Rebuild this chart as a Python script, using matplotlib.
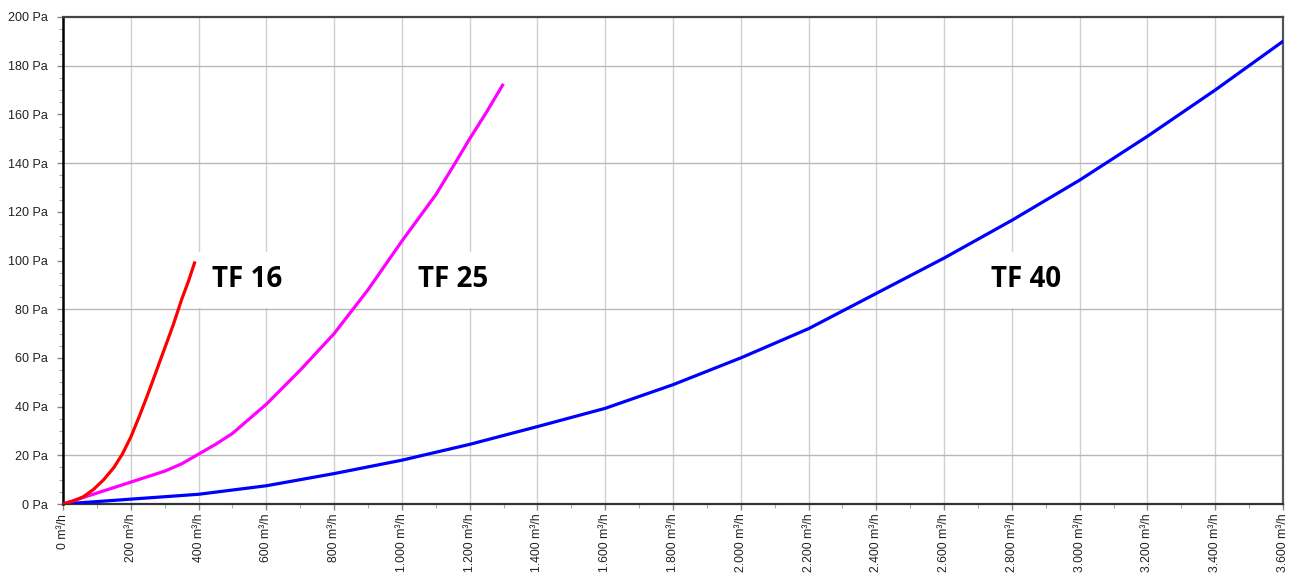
import numpy as np
import matplotlib
matplotlib.use("Agg")
import matplotlib.pyplot as plt
from matplotlib.ticker import FuncFormatter, MultipleLocator

plt.rcParams["axes.grid"] = False
plt.rcParams["axes.grid.axis"] = "x"

# Pressure drop curves (flow in m³/h, pressure in Pa)
tf16_flow = [0, 30, 60, 90, 120, 150, 175, 200, 225, 250, 275, 300, 325, 350, 370, 388]
tf16_pa = [0, 1.2, 3.0, 6.0, 10.0, 15.0, 20.5, 27.5, 36.0, 45.0, 54.5, 64.0, 73.5, 84.0, 91.5, 99.0]

tf25_flow = [0, 100, 200, 300, 350, 400, 450, 500, 600, 700, 800, 900, 1000, 1100, 1157, 1200, 1250, 1297]
tf25_pa = [0, 4.5, 9.0, 13.5, 16.5, 20.5, 24.5, 29.0, 41.0, 55.0, 70.0, 88.0, 108.0, 127.0, 140.0, 150.0, 161.0, 172.0]

tf40_flow = [0, 200, 400, 600, 800, 1000, 1200, 1400, 1600, 1800, 2000, 2200, 2400,
             2600, 2800, 3000, 3200, 3400, 3600]
tf40_pa = [0, 2.0, 4.0, 7.5, 12.5, 18.0, 24.5, 31.8, 39.3, 49.0, 60.0, 72.0, 86.5,
           101.0, 116.5, 133.0, 151.0, 170.0, 190.0]

labels = ["TF 16", "TF 25", "TF 40"]
label_x = [543, 1151, 2842]
label_y = [92, 92, 92]

h_grid = [20, 80, 140, 180]

fig = plt.figure(figsize=(12.92, 5.80), dpi=100)
ax = fig.add_axes([0.0488, 0.131, 0.9442, 0.8397])

ax.set_xlim(0, 3600)
ax.set_ylim(0, 200)

ax.xaxis.set_major_locator(MultipleLocator(200))
ax.xaxis.set_minor_locator(MultipleLocator(100))
ax.yaxis.set_major_locator(MultipleLocator(20))
ax.yaxis.set_minor_locator(MultipleLocator(5))

# grid: vertical lines every 200 m³/h, only a few horizontal lines are visible
ax.vlines(np.arange(200, 3600, 200), 0, 200, colors="#d0d0d0", linewidth=1.0, zorder=0)
ax.hlines(h_grid, 0, 3600, colors="#b8b8b8", linewidth=1.0, zorder=0)

ax.plot(tf40_flow, tf40_pa, color="#0000ff", linewidth=2.3, solid_joinstyle="round", zorder=3)
ax.plot(tf25_flow, tf25_pa, color="#ff00ff", linewidth=2.3, solid_joinstyle="round", zorder=3)
ax.plot(tf16_flow, tf16_pa, color="#ff0000", linewidth=2.3, solid_joinstyle="round", zorder=3)

for txt, x, y in zip(labels, label_x, label_y):
    ax.text(x, y, txt, fontsize=20, fontweight="bold", family="Open Sans",
            ha="center", va="center", color="black", zorder=5,
            bbox=dict(boxstyle="square,pad=0.5", facecolor="white", edgecolor="none"))

ax.xaxis.set_major_formatter(FuncFormatter(lambda v, p: f"{int(v):,}".replace(",", ".") + " m³/h"))
ax.yaxis.set_major_formatter(FuncFormatter(lambda v, p: f"{int(v)} Pa"))

ax.tick_params(axis="x", which="major", length=4, width=1, color="#888888", pad=3,
               labelsize=8.8, labelrotation=90, labelcolor="#222222")
ax.tick_params(axis="x", which="minor", length=3, width=0.8, color="#aaaaaa")
ax.tick_params(axis="y", which="major", length=4, width=1, color="#888888", pad=7,
               labelsize=9, labelcolor="#222222")
ax.tick_params(axis="y", which="minor", length=3, width=0.8, color="#aaaaaa")
for lab in ax.get_xticklabels() + ax.get_yticklabels():
    lab.set_family("Liberation Sans")
ax.grid(False, which="both")
for gl in ax.get_ygridlines() + ax.get_xgridlines():
    gl.set_visible(False)

ax.spines["left"].set_color("black")
ax.spines["left"].set_linewidth(1.8)
ax.spines["bottom"].set_color("#333333")
ax.spines["bottom"].set_linewidth(1.6)
ax.spines["top"].set_color("#444444")
ax.spines["top"].set_linewidth(1.6)
ax.spines["right"].set_color("#555555")
ax.spines["right"].set_linewidth(1.6)

fig.savefig("out.png", dpi=100, facecolor="white")
